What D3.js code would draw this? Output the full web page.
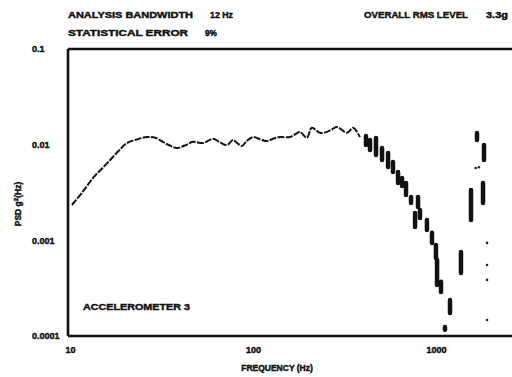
<!DOCTYPE html>
<html>
<head>
<meta charset="utf-8">
<script src="https://cdn.jsdelivr.net/npm/d3@7/dist/d3.min.js"></script>
<style>
  html, body { margin: 0; padding: 0; background: #fff; }
  svg { display: block; }
  text { font-family: "Liberation Sans", Arial, sans-serif; font-weight: bold; fill: #111; stroke: #111; stroke-width: 0.45px; }
</style>
</head>
<body>
<svg id="chart" width="512" height="377"></svg>
<script>
// Acceleration PSD, accelerometer 3
// Smooth part of the spectrum (Hz, g^2/Hz)
const lineFreq = [10.5, 12.0, 13.7, 15.3, 17.0, 19.0, 21.0, 24.0, 27.0, 30.0, 33.0, 36.0, 39.4, 43.5, 48.2, 54.7, 62.0, 67.5, 73.9, 79.7, 84.0, 89.3, 95.0, 102.5, 112, 122, 133, 144, 163, 175, 185, 202, 215, 238, 260, 278, 295, 335, 361, 394];
const linePsd  = [0.00234, 0.00320, 0.00449, 0.00560, 0.00692, 0.00870, 0.0104, 0.0114, 0.0120, 0.0118, 0.0107, 0.0098, 0.00924, 0.0098, 0.0107, 0.0104, 0.0115, 0.0106, 0.00993, 0.0112, 0.0104, 0.00969, 0.0110, 0.0120, 0.0114, 0.0109, 0.0116, 0.0120, 0.0120, 0.0129, 0.0136, 0.0118, 0.0150, 0.0133, 0.0136, 0.0145, 0.0153, 0.0133, 0.0150, 0.0120];

// Scattered high-frequency estimates: spread per frequency (Hz, low/high g^2/Hz)
const hfFreq = [425, 447, 482, 520, 561, 597, 636, 669, 703, 749, 788, 818, 838, 915, 975, 1025, 1039, 1092, 1223, 1148, 1404, 1593, 1718, 1876, 1853];
const hfLow  = [0.00993, 0.00881, 0.00780, 0.00692, 0.00585, 0.00519, 0.00398, 0.00370, 0.00298, 0.00246, 0.00138, 0.00223, 0.00171, 0.00128, 0.00094, 0.000655, 0.000342, 0.000289, 0.000174, 0.000116, 0.000456, 0.00163, 0.0112, 0.00692, 0.00246];
const hfHigh = [0.01233, 0.01120, 0.01175, 0.00924, 0.00819, 0.00660, 0.00519, 0.00449, 0.00398, 0.00284, 0.00193, 0.00284, 0.00208, 0.00163, 0.00120, 0.000895, 0.000624, 0.000368, 0.000238, 0.000124, 0.000757, 0.00336, 0.01325, 0.00993, 0.00398];

// Isolated points
const dotFreq = [1949, 1949, 1949, 1949, 1690, 1760];
const dotPsd  = [0.00094, 0.000553, 0.000386, 0.000147, 0.0057, 0.0058];

// Axis ticks
const xTicks = [10, 100, 1000];
const xTickLabels = ["10", "100", "1000"];
const yTicks = [0.1, 0.01, 0.001, 0.0001];
const yTickLabels = ["0.1", "0.01", "0.001", "0.0001"];

const svg = d3.select("#chart");
const plotLeft = 68, plotTop = 49, plotBottom = 336;
const decade = 183;

const x = d3.scaleLog().domain([10, 5000]).range([plotLeft, plotLeft + decade * Math.log10(500)]);
const y = d3.scaleLog().domain([0.0001, 0.1]).range([plotBottom, plotTop]);

// Frame: top, left and bottom edges
const frame = svg.append("g").attr("fill", "none").attr("stroke", "#111").attr("stroke-width", 2.6);
frame.append("line").attr("x1", plotLeft).attr("x2", 512).attr("y1", plotTop).attr("y2", plotTop);
frame.append("line").attr("x1", plotLeft).attr("x2", plotLeft).attr("y1", plotTop).attr("y2", plotBottom);
frame.append("line").attr("x1", plotLeft).attr("x2", 512).attr("y1", plotBottom).attr("y2", plotBottom);

// X axis labels
const xAxis = svg.append("g")
  .attr("transform", `translate(0,${plotBottom})`)
  .call(d3.axisBottom(x).tickValues(xTicks).tickSize(0).tickPadding(11)
    .tickFormat((d, i) => xTickLabels[i]));
xAxis.select(".domain").remove();
xAxis.selectAll("text").attr("font-size", 9).attr("font-family", "Liberation Sans, Arial, sans-serif")
  .attr("font-weight", "bold").attr("fill", "#111").attr("dx", 2);

// Y axis labels
const yAxis = svg.append("g")
  .attr("transform", `translate(${plotLeft},0)`)
  .call(d3.axisLeft(y).tickValues(yTicks).tickSize(0)
    .tickFormat((d, i) => yTickLabels[i]));
yAxis.select(".domain").remove();
yAxis.selectAll("text").attr("font-size", 9).attr("font-family", "Liberation Sans, Arial, sans-serif")
  .attr("font-weight", "bold").attr("fill", "#111")
  .attr("text-anchor", "start").attr("x", 32 - plotLeft);

// Y axis title
const yt = svg.append("text")
  .attr("transform", "translate(21,204) rotate(-90)")
  .attr("text-anchor", "middle").attr("font-size", 8.5);
yt.append("tspan").text("PSD g");
yt.append("tspan").attr("baseline-shift", "super").attr("font-size", 6).text("2");
yt.append("tspan").text("(Hz)");

// X axis title
svg.append("text").attr("x", 277).attr("y", 371).attr("text-anchor", "middle")
  .attr("font-size", 8.5).text("FREQUENCY (Hz)");

// Header
const head = [
  ["ANALYSIS BANDWIDTH", 68, 18, 125],
  ["12 Hz", 210, 18, 23],
  ["STATISTICAL ERROR", 68, 36, 120],
  ["9%", 205, 36, 12],
  ["OVERALL RMS LEVEL", 364, 18, 104],
  ["3.3g", 486, 18, 22]
];
head.forEach(([t, hx, hy, w]) => {
  svg.append("text").attr("x", hx).attr("y", hy).attr("font-size", 9.5)
    .attr("textLength", w).attr("lengthAdjust", "spacingAndGlyphs").text(t);
});

svg.append("text").attr("x", 83).attr("y", 310).attr("font-size", 9.5)
  .attr("textLength", 107).attr("lengthAdjust", "spacingAndGlyphs").text("ACCELEROMETER 3");

// Spectrum curve
const lineData = lineFreq.map((f, i) => [f, linePsd[i]]);
svg.append("path")
  .datum(lineData)
  .attr("fill", "none")
  .attr("stroke", "#151515")
  .attr("stroke-width", 2)
  .attr("stroke-dasharray", "7,1.3")
  .attr("d", d3.line().x(d => x(d[0])).y(d => y(d[1])).curve(d3.curveCatmullRom));

// High-frequency scatter bands
svg.append("g").selectAll("line")
  .data(hfFreq.map((f, i) => ({ f, lo: hfLow[i], hi: hfHigh[i] })))
  .join("line")
  .attr("x1", d => x(d.f)).attr("x2", d => x(d.f))
  .attr("y1", d => y(d.hi)).attr("y2", d => y(d.lo))
  .attr("stroke", "#111").attr("stroke-width", 4.5).attr("stroke-linecap", "round");

svg.append("g").selectAll("circle")
  .data(dotFreq.map((f, i) => ({ f, v: dotPsd[i] })))
  .join("circle")
  .attr("cx", d => x(d.f)).attr("cy", d => y(d.v)).attr("r", 1.3).attr("fill", "#222");
</script>
</body>
</html>
